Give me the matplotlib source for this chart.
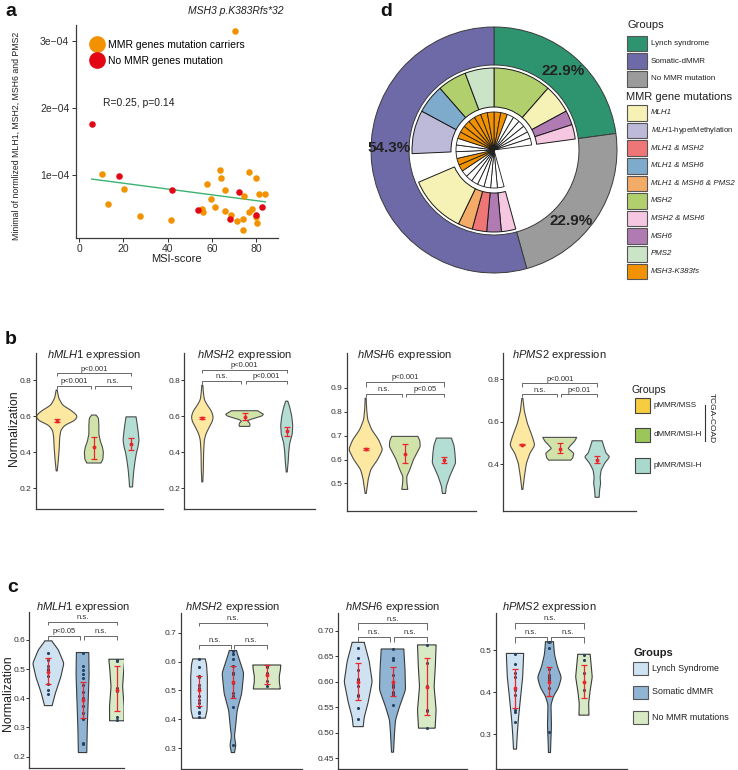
import numpy as np
import matplotlib
matplotlib.use("Agg")
import matplotlib.pyplot as plt
from matplotlib.patches import Rectangle
from matplotlib.lines import Line2D
from matplotlib.transforms import blended_transform_factory

plt.rcParams['font.family'] = ['Liberation Sans', 'DejaVu Sans']
plt.rcParams['mathtext.fontset'] = 'custom'
plt.rcParams['mathtext.rm'] = 'Liberation Sans'
plt.rcParams['mathtext.it'] = 'Liberation Sans:italic'
plt.rcParams['mathtext.bf'] = 'Liberation Sans:bold'

# ------------------------------------------------------------------ data: panel a
msi_carriers = [10.5, 20.4, 13.0, 27.6, 41.5, 57.6, 59.7, 55.5, 56.1, 61.5, 63.6, 64.2, 65.8, 66.1,
                68.5, 71.3, 74.4, 76.6, 74.1, 74.2, 76.9, 78.1, 80.1, 80.4, 81.1, 80.1, 84.2, 70.6]
minexpr_carriers = [1.01e-4, 0.79e-4, 0.57e-4, 0.39e-4, 0.33e-4, 0.87e-4, 0.64e-4, 0.49e-4, 0.45e-4,
                    0.52e-4, 1.08e-4, 0.96e-4, 0.77e-4, 0.47e-4, 0.41e-4, 0.32e-4, 0.68e-4, 1.05e-4,
                    0.35e-4, 0.18e-4, 0.45e-4, 0.49e-4, 0.38e-4, 0.29e-4, 0.71e-4, 0.95e-4, 0.71e-4, 3.15e-4]
msi_nomut = [5.7, 18.1, 42.2, 53.8, 68.3, 72.5, 79.8, 82.6]
minexpr_nomut = [1.76e-4, 0.98e-4, 0.77e-4, 0.48e-4, 0.34e-4, 0.74e-4, 0.41e-4, 0.52e-4]
trend_msi = [5.7, 84.2]
trend_minexpr = [0.94e-4, 0.60e-4]
a_xticks = [0, 20, 40, 60, 80]
a_yticks = [1e-4, 2e-4, 3e-4]
a_yticklabels = ["1e\u221204", "2e\u221204", "3e\u221204"]
a_legend = ["MMR genes mutation carriers", "No MMR genes mutation"]
a_stat = "R=0.25, p=0.14"
a_outlier_label = "MSH3 p.K383Rfs*32"

# ------------------------------------------------------------------ data: panel d
legend_groups = ["Lynch syndrome", "Somatic-dMMR", "No MMR mutation"]
group_colors = {"Lynch syndrome": "#2e9470", "Somatic-dMMR": "#6e6aa8", "No MMR mutation": "#9b9b9b"}
ring_groups = ["Lynch syndrome", "No MMR mutation", "Somatic-dMMR"]      # clockwise from top
ring_group_counts = [8, 8, 19]
mut_names = ["MLH1", "MLH1-hyperMethylation", "MLH1 & MSH2", "MLH1 & MSH6", "MLH1 & MSH6 & PMS2",
             "MSH2", "MSH2 & MSH6", "MSH6", "PMS2", "MSH3-K383fs"]
mut_colors = ["#f6f1b5", "#bcb9d9", "#ee7677", "#7eabcc", "#f4ab68",
              "#b1d06d", "#f5c7e0", "#b07ab3", "#cbe3c6", "#f39200"]
mid_ring_cats = ["MSH2", "MLH1", "MSH6", "MSH2 & MSH6", None,
                 "MSH2 & MSH6", "MSH6", "MLH1 & MSH2", "MLH1 & MSH6 & PMS2", "MLH1", None,
                 "MLH1-hyperMethylation", "MLH1 & MSH6", "MSH2", "PMS2"]
mid_ring_counts = [4, 2, 1, 1, 8, 1, 1, 1, 1, 4, 2, 3, 2, 2, 2]
msh3_status = [1, 1, 0, 0, 0, 0, 0, 0] + [None] * 8 + [0] * 7 + [1] * 2 + [0] * 3 + [1] * 7

# ------------------------------------------------------------------ data: panel b (TCGA)
b_genes = ["hMLH1", "hMSH2", "hMSH6", "hPMS2"]
b_groups = ["pMMR/MSS", "dMMR/MSI-H", "pMMR/MSI-H"]
b_mlh1_vals = [[0.296, 0.35, 0.42, 0.48, 0.52, 0.55, 0.575, 0.60, 0.63, 0.66, 0.70, 0.745],
               [0.34, 0.36, 0.40, 0.43, 0.46, 0.50, 0.55, 0.59, 0.606],
               [0.207, 0.25, 0.30, 0.35, 0.394, 0.43, 0.467, 0.52, 0.56, 0.596]]
b_mlh1_dens = [[0.5, 1.5, 2.5, 3, 4, 8, 18, 21, 15, 6, 2, 0.5],
               [7, 9, 9.5, 8.5, 6.5, 5, 5, 4.5, 2],
               [1.5, 2, 2.8, 4, 5.3, 7, 8, 7, 6, 5]]
b_mlh1_mean = [0.575, 0.43, 0.445]
b_mlh1_lo = [0.568, 0.365, 0.41]
b_mlh1_hi = [0.582, 0.487, 0.478]
b_mlh1_p = ["p<0.001", "n.s.", "p<0.001"]

b_msh2_vals = [[0.235, 0.30, 0.40, 0.467, 0.50, 0.54, 0.57, 0.596, 0.63, 0.652, 0.69, 0.735, 0.772],
               [0.543, 0.55, 0.562, 0.572, 0.58, 0.59, 0.60, 0.61, 0.62, 0.63],
               [0.29, 0.35, 0.40, 0.45, 0.50, 0.55, 0.60, 0.65, 0.683]]
b_msh2_dens = [[0.5, 1, 1.3, 2, 3.5, 7, 10, 11, 9, 6, 2, 1, 0.5],
               [5, 5.5, 5, 3, 5, 11, 17, 19, 16, 13],
               [0.5, 1.5, 2, 3, 5.5, 6, 5, 3, 1]]
b_msh2_mean = [0.588, 0.595, 0.515]
b_msh2_lo = [0.583, 0.578, 0.49]
b_msh2_hi = [0.593, 0.615, 0.54]
b_msh2_p = ["n.s.", "p<0.001", "p<0.001"]

b_msh6_vals = [[0.458, 0.50, 0.517, 0.558, 0.60, 0.642, 0.683, 0.725, 0.767, 0.81, 0.857],
               [0.475, 0.49, 0.51, 0.53, 0.558, 0.60, 0.655, 0.68, 0.697],
               [0.458, 0.489, 0.53, 0.586, 0.628, 0.66, 0.69]]
b_msh6_dens = [[0.5, 2, 2.5, 5, 12, 17, 13, 6, 2, 1, 0.5],
               [3, 2.5, 2, 2, 5, 8.7, 15.5, 15, 13],
               [1.5, 2.5, 5.8, 11.7, 11, 10, 7.5]]
b_msh6_mean = [0.645, 0.625, 0.60]
b_msh6_lo = [0.640, 0.586, 0.585]
b_msh6_hi = [0.650, 0.667, 0.612]
b_msh6_p = ["n.s.", "p<0.05", "p<0.001"]

b_pms2_vals = [[0.282, 0.342, 0.405, 0.452, 0.49, 0.53, 0.593, 0.65, 0.711],
               [0.42, 0.43, 0.452, 0.465, 0.475, 0.49, 0.51, 0.527],
               [0.245, 0.28, 0.31, 0.34, 0.373, 0.405, 0.436, 0.452, 0.48, 0.511]]
b_pms2_dens = [[0.5, 2, 4, 7.5, 12.5, 10, 5, 2, 0.5],
               [11, 13, 14, 11, 8.3, 11, 15, 17],
               [2, 2.5, 3.5, 3, 4, 7.5, 12.7, 9, 7, 5]]
b_pms2_mean = [0.493, 0.473, 0.42]
b_pms2_lo = [0.489, 0.455, 0.405]
b_pms2_hi = [0.497, 0.50, 0.44]
b_pms2_p = ["n.s.", "p<0.01", "p<0.001"]

# ------------------------------------------------------------------ data: panel c (cohort)
c_groups = ["Lynch Syndrome", "Somatic dMMR", "No MMR mutations"]
c_mlh1_pts = [[0.554, 0.532, 0.511, 0.500, 0.498, 0.475, 0.449, 0.429, 0.415],
              [0.556, 0.511, 0.497, 0.484, 0.469, 0.446, 0.423, 0.400, 0.372, 0.349, 0.328, 0.248, 0.243],
              [0.530, 0.528, 0.436, 0.424, 0.336, 0.327]]
c_mlh1_vals = [[0.375, 0.417, 0.474, 0.52, 0.566, 0.597],
               [0.214, 0.30, 0.40, 0.48, 0.557],
               [0.323, 0.372, 0.44, 0.50, 0.534]]
c_mlh1_dens = [[3.8, 7, 12.5, 15.5, 10, 3.3],
               [4.2, 4.7, 5.7, 6.5, 6.2],
               [7.2, 7.3, 5.8, 7, 8]]
c_mlh1_mean = [0.49, 0.395, 0.43]
c_mlh1_lo = [0.449, 0.332, 0.355]
c_mlh1_hi = [0.537, 0.457, 0.511]
c_mlh1_p = ["p<0.05", "n.s.", "n.s."]

c_msh2_pts = [[0.608, 0.582, 0.550, 0.546, 0.519, 0.508, 0.479, 0.467, 0.456, 0.444, 0.427, 0.421, 0.407],
              [0.638, 0.626, 0.608, 0.585, 0.562, 0.560, 0.557, 0.525, 0.492, 0.479, 0.444, 0.311],
              [0.585, 0.580, 0.560, 0.531, 0.514]]
c_msh2_vals = [[0.404, 0.43, 0.467, 0.548, 0.59, 0.609],
               [0.285, 0.31, 0.34, 0.37, 0.43, 0.49, 0.56, 0.608, 0.638],
               [0.505, 0.53, 0.55, 0.57, 0.588]]
c_msh2_dens = [[6.2, 8, 8.3, 8.3, 7.5, 6.2],
               [1.5, 3, 1.5, 2.5, 4.2, 8.8, 10.8, 6.3, 3.5],
               [13.5, 12.5, 12.5, 13.5, 14]]
c_msh2_mean = [0.50, 0.53, 0.555]
c_msh2_lo = [0.447, 0.473, 0.522]
c_msh2_hi = [0.550, 0.585, 0.588]
c_msh2_p = ["n.s.", "n.s.", "n.s."]

c_msh6_pts = [[0.665, 0.646, 0.623, 0.605, 0.603, 0.592, 0.574, 0.571, 0.548, 0.526],
              [0.664, 0.646, 0.643, 0.613, 0.594, 0.590, 0.580, 0.577, 0.574, 0.554],
              [0.672, 0.636, 0.591, 0.545, 0.542, 0.509]]
c_msh6_vals = [[0.512, 0.53, 0.56, 0.60, 0.64, 0.677],
               [0.462, 0.499, 0.525, 0.551, 0.584, 0.623, 0.664],
               [0.509, 0.545, 0.59, 0.63, 0.672]]
c_msh6_dens = [[5, 6, 10, 14, 11, 6],
               [1, 2, 3, 7, 13, 12.5, 11.3],
               [8.3, 9.3, 7.3, 8.5, 9.3]]
c_msh6_mean = [0.60, 0.60, 0.59]
c_msh6_lo = [0.565, 0.571, 0.535]
c_msh6_hi = [0.636, 0.628, 0.646]
c_msh6_p = ["n.s.", "n.s.", "n.s."]

c_pms2_pts = [[0.490, 0.467, 0.446, 0.436, 0.405, 0.393, 0.357, 0.353, 0.329],
              [0.520, 0.504, 0.456, 0.440, 0.435, 0.433, 0.429, 0.409, 0.306],
              [0.488, 0.476, 0.445, 0.425, 0.405]]
c_pms2_vals = [[0.264, 0.30, 0.333, 0.381, 0.436, 0.492],
               [0.256, 0.29, 0.32, 0.37, 0.39, 0.41, 0.435, 0.46, 0.49, 0.52],
               [0.345, 0.373, 0.40, 0.436, 0.49]]
c_pms2_dens = [[1.5, 2.3, 3.3, 5.3, 7.7, 8.7],
               [1, 1.5, 2, 1.5, 4, 9, 12, 8, 5, 4],
               [5, 4.7, 6, 8.3, 6.2]]
c_pms2_mean = [0.41, 0.425, 0.425]
c_pms2_lo = [0.361, 0.390, 0.387]
c_pms2_hi = [0.456, 0.460, 0.464]
c_pms2_p = ["n.s.", "n.s.", "n.s."]

# ------------------------------------------------------------------ figure
W, H = 738, 770
fig = plt.figure(figsize=(W / 100, H / 100), dpi=100)


def axpx(l, t, r, b):
    return fig.add_axes([l / W, 1 - b / H, (r - l) / W, (b - t) / H])


def fy(py):
    return 1 - py / H


def fx(px):
    return px / W


ORANGE, RED = "#f39200", "#e30613"
ERR = "#e8262b"
SPINE = "#3c3c3c"

# ------------------------------------------------------------------ panel a
axa = axpx(75.5, 25, 278, 238)
axa.scatter(msi_carriers, minexpr_carriers, s=22, color=ORANGE, linewidths=0, zorder=3)
axa.scatter(msi_nomut, minexpr_nomut, s=22, color=RED, linewidths=0, zorder=3)
axa.plot(trend_msi, trend_minexpr, color="#3cb371", lw=1.0, zorder=2)
axa.set_xlim(-1.6, 89.9)
axa.set_ylim(0.06e-4, 3.24e-4)
axa.set_xticks(a_xticks)
axa.set_yticks(a_yticks)
axa.set_yticklabels(a_yticklabels)
for s in ["top", "right"]:
    axa.spines[s].set_visible(False)
for s in ["left", "bottom"]:
    axa.spines[s].set_color(SPINE)
    axa.spines[s].set_linewidth(0.9)
axa.tick_params(labelsize=7.5, length=3, width=0.7, pad=1.5, colors="#303030")
axa.set_xlabel("MSI-score", fontsize=8, labelpad=0, color="#202020")
fig.text(fx(16), fy(136), "Minimal of normlized MLH1, MSH2, MSH6 and PMS2", rotation=90,
         ha="center", va="center", fontsize=6.3, color="#202020")
io = int(np.argmax(minexpr_carriers))
axa.annotate(a_outlier_label, xy=(msi_carriers[io], minexpr_carriers[io]), xytext=(0, 14.5),
             textcoords="offset points", ha="center", va="center", fontsize=7.5, style="italic",
             color="#202020", annotation_clip=False)
hl = [Line2D([], [], marker="o", ls="", color=ORANGE, markersize=11),
      Line2D([], [], marker="o", ls="", color=RED, markersize=11)]
axa.legend(hl, a_legend, loc="upper left", bbox_to_anchor=(0.06, 0.94), frameon=False, fontsize=7.5,
           handletextpad=0.45, labelspacing=0.55, borderaxespad=0, borderpad=0.2, handlelength=1.3)
axa.text(0.137, 0.634, a_stat, transform=axa.transAxes, ha="left", va="center", fontsize=7.5,
         color="#202020")

# ------------------------------------------------------------------ panel d
R = 123.0
axd = axpx(366, 22, 622, 278)
mut_col = dict(zip(mut_names, mut_colors))
axd.pie(ring_group_counts, colors=[group_colors[g] for g in ring_groups], startangle=90,
        counterclock=False, radius=1.0,
        wedgeprops=dict(width=38 / R, edgecolor="#3a3a3a", linewidth=0.7))
wm, _ = axd.pie(mid_ring_counts, colors=[mut_col[c] if c else "none" for c in mid_ring_cats],
                startangle=90, counterclock=False, radius=82 / R,
                wedgeprops=dict(width=39 / R, edgecolor="#1a1a1a", linewidth=0.7))
for wd, c in zip(wm, mid_ring_cats):
    if c is None:
        wd.set_edgecolor("none")
wi, _ = axd.pie([1] * len(msh3_status),
                colors=[ORANGE if s == 1 else "white" for s in msh3_status],
                startangle=90, counterclock=False, radius=38 / R,
                wedgeprops=dict(edgecolor="#1a1a1a", linewidth=0.6))
for wd, s in zip(wi, msh3_status):
    if s is None:
        wd.set_visible(False)
axd.set_xlim(-128 / R, 128 / R)
axd.set_ylim(-128 / R, 128 / R)
axd.set_aspect("equal")
axd.axis("off")
pct_angles = [49, -42.5, 179]
tot = sum(ring_group_counts)
for cnt, ang in zip(ring_group_counts, pct_angles):
    a = np.deg2rad(ang)
    axd.text(0.855 * np.cos(a), 0.855 * np.sin(a), f"{100 * cnt / tot:.1f}%", ha="center",
             va="center", fontsize=11, fontweight="bold", color="#222222")

# legend d
fig.text(fx(627), fy(25), "Groups", fontsize=8, ha="left", va="center", color="#202020")
for i, g in enumerate(legend_groups):
    yc = 43.5 + i * 17.7
    fig.patches.append(Rectangle((fx(627), fy(yc + 7.8)), 20 / W, 15.6 / H, transform=fig.transFigure,
                                 facecolor=group_colors[g], edgecolor="#555555", lw=0.8))
    fig.text(fx(651), fy(yc), g, fontsize=5.8, ha="left", va="center", color="#202020")
fig.text(fx(626), fy(97), "MMR gene mutations", fontsize=8, ha="left", va="center", color="#202020")
for i, (m, c) in enumerate(zip(mut_names, mut_colors)):
    yc = 113 + i * 17.6
    fig.patches.append(Rectangle((fx(627), fy(yc + 7.8)), 20 / W, 15.6 / H, transform=fig.transFigure,
                                 facecolor=c, edgecolor="#555555", lw=0.8))
    if "-hyper" in m:
        base, rest = m.split("-", 1)
        fig.text(fx(651), fy(yc), r"$\mathit{" + base + "}$-" + rest, fontsize=5.5, ha="left",
                 va="center", color="#202020")
    else:
        fig.text(fx(651), fy(yc), m, fontsize=5.7, ha="left", va="center", style="italic",
                 color="#202020")


# ------------------------------------------------------------------ helpers for violins
def draw_violin(ax, pos, vals, dens, pxu, fc, ec="#4d4d4d"):
    v = np.asarray(vals, float)
    w = np.asarray(dens, float) / pxu
    o = np.argsort(v)
    v, w = v[o], w[o]
    yy = np.linspace(v[0], v[-1], 300)
    ww = np.interp(yy, v, w)
    n = 12
    k = np.exp(-0.5 * (np.arange(-n, n + 1) / 5.0) ** 2)
    k /= k.sum()
    ww = np.convolve(np.pad(ww, n, mode="edge"), k, mode="valid")
    xs = np.concatenate([pos - ww, (pos + ww)[::-1]])
    ys = np.concatenate([yy, yy[::-1]])
    ax.fill(xs, ys, facecolor=fc, edgecolor=ec, linewidth=0.8, zorder=2)


def draw_err(ax, pos, m, lo, hi):
    ax.errorbar([pos], [m], yerr=[[m - lo], [hi - m]], fmt="o", ms=1.8, color=ERR, ecolor=ERR,
                elinewidth=0.9, capsize=2.2, capthick=0.9, zorder=5)


def bracket(ax, x1, x2, y, h, label):
    ax.plot([x1, x1, x2, x2], [y - h, y, y, y - h], color="#505050", lw=0.6, clip_on=False,
            solid_capstyle="butt", zorder=3)
    ax.annotate(label, xy=((x1 + x2) / 2, y), xytext=(0, 0.6), textcoords="offset points",
                ha="center", va="bottom", fontsize=5.5, color="#303030", annotation_clip=False)


def style_axes(ax, yticks, fmt):
    for s in ["top", "right"]:
        ax.spines[s].set_visible(False)
    for s in ["left", "bottom"]:
        ax.spines[s].set_color(SPINE)
        ax.spines[s].set_linewidth(0.9)
    ax.set_xticks([])
    ax.set_yticks(yticks)
    ax.set_yticklabels([fmt.format(t) for t in yticks])
    ax.tick_params(axis="y", labelsize=6, length=2, width=0.7, pad=1, colors="#303030")


def title_at(ax, gene, ypx, fs=8):
    tr = blended_transform_factory(ax.transData, fig.transFigure)
    ax.text(2, fy(ypx), r"$\mathit{" + gene + "}$ expression", transform=tr, ha="center",
            va="center", fontsize=fs, color="#202020")


# ------------------------------------------------------------------ panel b
b_fill = ["#fce8a1", "#d2e3a9", "#b4ddd3"]
b_leg = ["#f5cd3e", "#9dc65a", "#aad8cc"]
b_layout = [
    dict(box=(35.7, 353, 163, 509), xlim=(0.435, 3.86), ylim=(0.085, 0.95), yt=[0.2, 0.4, 0.6, 0.8],
         fmt="{:.1f}", pxu=37.15, top=(0.837, 0.017), low=(0.767, 0.015)),
    dict(box=(184.3, 353, 315, 509), xlim=(0.573, 3.67), ylim=(0.085, 0.95), yt=[0.2, 0.4, 0.6, 0.8],
         fmt="{:.1f}", pxu=42.2, top=(0.855, 0.015), low=(0.797, 0.017)),
    dict(box=(346.7, 353, 476, 510.7), xlim=(0.515, 3.82), ylim=(0.386, 1.046),
         yt=[0.5, 0.6, 0.7, 0.8, 0.9], fmt="{:.1f}", pxu=39.15, top=(0.924, 0.019), low=(0.875, 0.015)),
    dict(box=(503.3, 353, 636, 510.7), xlim=(0.49, 4.04), ylim=(0.182, 0.924), yt=[0.4, 0.6, 0.8],
         fmt="{:.1f}", pxu=37.35, top=(0.781, 0.016), low=(0.729, 0.014)),
]
b_data = [(b_mlh1_vals, b_mlh1_dens, b_mlh1_mean, b_mlh1_lo, b_mlh1_hi, b_mlh1_p),
          (b_msh2_vals, b_msh2_dens, b_msh2_mean, b_msh2_lo, b_msh2_hi, b_msh2_p),
          (b_msh6_vals, b_msh6_dens, b_msh6_mean, b_msh6_lo, b_msh6_hi, b_msh6_p),
          (b_pms2_vals, b_pms2_dens, b_pms2_mean, b_pms2_lo, b_pms2_hi, b_pms2_p)]
for gene, lay, (vals, dens, mean, lo, hi, pv) in zip(b_genes, b_layout, b_data):
    ax = axpx(*lay["box"])
    for i in range(3):
        draw_violin(ax, i + 1, vals[i], dens[i], lay["pxu"], b_fill[i])
        draw_err(ax, i + 1, mean[i], lo[i], hi[i])
    ax.set_xlim(*lay["xlim"])
    ax.set_ylim(*lay["ylim"])
    style_axes(ax, lay["yt"], lay["fmt"])
    bracket(ax, 1, 1.92, lay["low"][0], lay["low"][1], pv[0])
    bracket(ax, 2.04, 3, lay["low"][0], lay["low"][1], pv[1])
    bracket(ax, 1, 3, lay["top"][0], lay["top"][1], pv[2])
    title_at(ax, gene, 355)
fig.text(fx(14), fy(428), "Normalization", rotation=90, ha="center", va="center", fontsize=8.8,
         color="#202020")
# legend b
fig.text(fx(631), fy(390), "Groups", fontsize=7.6, ha="left", va="center", color="#202020")
for i, (g, c) in enumerate(zip(b_groups, b_leg)):
    yc = [405.5, 435, 465.5][i]
    fig.patches.append(Rectangle((fx(635.3), fy(yc + 7.3)), 14.7 / W, 14.6 / H,
                                 transform=fig.transFigure, facecolor=c, edgecolor="#444444", lw=0.8))
    fig.text(fx(653.3), fy(yc), g, fontsize=5.8, ha="left", va="center", color="#202020")
fig.add_artist(Line2D([fx(705), fx(705)], [fy(405), fy(441)], color="#333333", lw=0.8))
fig.text(fx(711.5), fy(418), "TCGA-COAD", rotation=-90, ha="center", va="center", fontsize=6.0,
         color="#202020")

# ------------------------------------------------------------------ panel c
c_fill = ["#cfe2f1", "#8fb4d4", "#d8eac5"]
c_layout = [
    dict(box=(29.3, 611.7, 124, 768.3), xlim=(0.444, 3.21), ylim=(0.160, 0.697),
         yt=[0.2, 0.3, 0.4, 0.5, 0.6], fmt="{:.1f}", pxu=34.2, top=(0.663, 0.013), low=(0.614, 0.014)),
    dict(box=(181, 612.7, 301.7, 769.3), xlim=(0.468, 4.03), ylim=(0.227, 0.769),
         yt=[0.3, 0.4, 0.5, 0.6, 0.7], fmt="{:.1f}", pxu=33.85, top=(0.735, 0.013), low=(0.657, 0.012)),
    dict(box=(338.3, 612.7, 467.3, 769.3), xlim=(0.42, 4.18), ylim=(0.4285, 0.735),
         yt=[0.45, 0.50, 0.55, 0.60, 0.65, 0.70], fmt="{:.2f}", pxu=34.3, top=(0.714, 0.012),
         low=(0.688, 0.011)),
    dict(box=(496, 612.7, 626.7, 769.3), xlim=(0.449, 4.24), ylim=(0.216, 0.589),
         yt=[0.3, 0.4, 0.5], fmt="{:.1f}", pxu=34.5, top=(0.565, 0.015), low=(0.532, 0.015)),
]
c_data = [(c_mlh1_pts, c_mlh1_vals, c_mlh1_dens, c_mlh1_mean, c_mlh1_lo, c_mlh1_hi, c_mlh1_p),
          (c_msh2_pts, c_msh2_vals, c_msh2_dens, c_msh2_mean, c_msh2_lo, c_msh2_hi, c_msh2_p),
          (c_msh6_pts, c_msh6_vals, c_msh6_dens, c_msh6_mean, c_msh6_lo, c_msh6_hi, c_msh6_p),
          (c_pms2_pts, c_pms2_vals, c_pms2_dens, c_pms2_mean, c_pms2_lo, c_pms2_hi, c_pms2_p)]
for gene, lay, (pts, vals, dens, mean, lo, hi, pv) in zip(b_genes, c_layout, c_data):
    ax = axpx(*lay["box"])
    for i in range(3):
        draw_violin(ax, i + 1, vals[i], dens[i], lay["pxu"], c_fill[i], ec="#3a3a3a")
        ax.scatter([i + 1] * len(pts[i]), pts[i], s=5, color="#27425f", linewidths=0, zorder=4)
        draw_err(ax, i + 1, mean[i], lo[i], hi[i])
    ax.set_xlim(*lay["xlim"])
    ax.set_ylim(*lay["ylim"])
    style_axes(ax, lay["yt"], lay["fmt"])
    bracket(ax, 1, 1.93, lay["low"][0], lay["low"][1], pv[0])
    bracket(ax, 2.03, 3, lay["low"][0], lay["low"][1], pv[1])
    bracket(ax, 1, 3, lay["top"][0], lay["top"][1], pv[2])
    title_at(ax, gene, 606.5)
fig.text(fx(8), fy(693), "Normalization", rotation=90, ha="center", va="center", fontsize=8.8,
         color="#202020")
# legend c
fig.text(fx(633), fy(653), "Groups", fontsize=8, fontweight="bold", ha="left", va="center",
         color="#202020")
for i, (g, c) in enumerate(zip(c_groups, c_fill)):
    yc = [668.3, 692, 717][i]
    fig.patches.append(Rectangle((fx(633.3), fy(yc + 6.5)), 15 / W, 13 / H,
                                 transform=fig.transFigure, facecolor=c, edgecolor="#555555", lw=0.8))
    fig.text(fx(651.7), fy(yc), g, fontsize=6.4, ha="left", va="center", color="#202020")

# ------------------------------------------------------------------ panel letters
for lab, x, y in [("a", 5, 12), ("b", 5, 340), ("c", 7, 587), ("d", 380, 12)]:
    fig.text(fx(x), fy(y), lab, fontsize=14, fontweight="bold", ha="left", va="center", color="#111111")

fig.savefig("out.png", dpi=100)
